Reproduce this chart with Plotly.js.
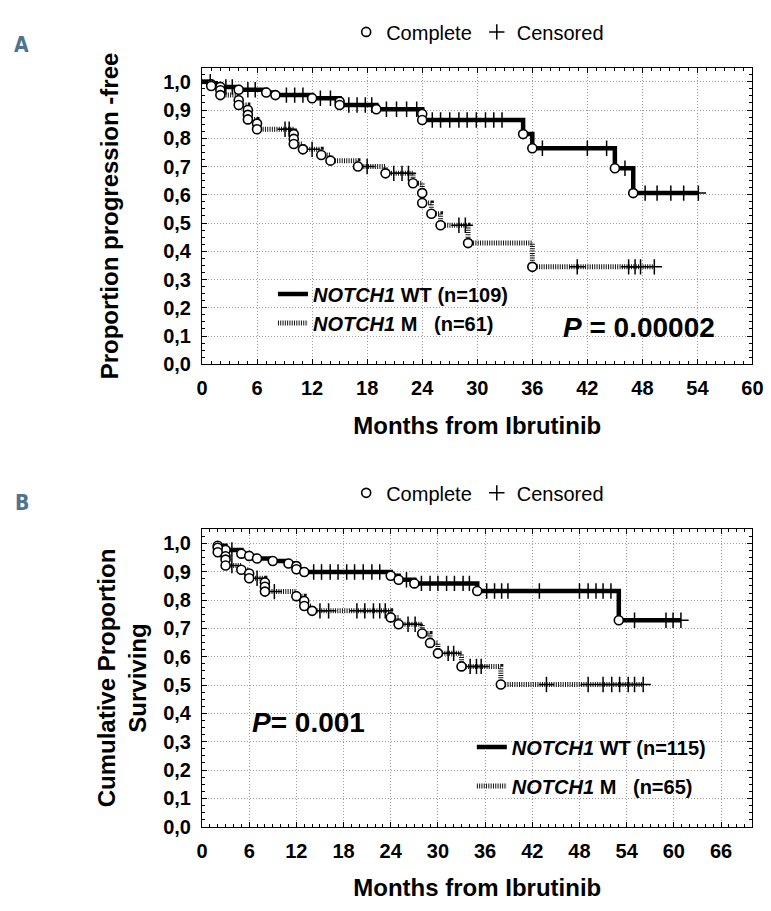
<!DOCTYPE html>
<html>
<head>
<meta charset="utf-8">
<script src="https://cdn.plot.ly/plotly-3.0.1.min.js"></script>
<style>html,body{margin:0;padding:0;background:#fff;}#chart{width:771px;height:911px;}</style>
</head>
<body>
<div id="chart"></div>
<script>
// ---------- Data ----------
// Panel A: progression-free, NOTCH1 WT
const pfsStartMonth = 0;
const pfsWtEventMonths = [1, 2, 4, 7, 8, 12, 15, 15, 19, 24, 24, 35, 36, 45, 47];
const pfsWtEventSurv   = [0.991, 0.982, 0.972, 0.962, 0.953, 0.942, 0.930, 0.918, 0.903, 0.886, 0.865, 0.815, 0.765, 0.694, 0.606];
const pfsWtCensorMonths = [0.9, 2.6, 3.3, 5.0, 5.8, 9.2, 10.1, 11.0, 12.9, 14.0, 16.0, 16.9, 17.8, 18.5, 20.1, 21.2, 22.3, 23.4,
  25.1, 26.0, 27.0, 28.0, 28.9, 29.9, 30.9, 31.8, 32.7, 37.1, 42.0, 44.1, 46.1, 48.3, 49.6, 51.1, 52.5, 54.1];
// Panel A: progression-free, NOTCH1 M
const pfsMEventMonths = [1, 2, 2, 4, 4, 5, 5, 5, 6, 6, 10, 10, 10, 11, 13, 14, 17, 20, 23, 24, 24, 25, 26, 29, 36];
const pfsMEventSurv   = [0.985, 0.970, 0.953, 0.935, 0.918, 0.900, 0.883, 0.867, 0.852, 0.832, 0.815, 0.798, 0.780, 0.761,
  0.741, 0.721, 0.700, 0.676, 0.641, 0.606, 0.571, 0.533, 0.492, 0.429, 0.345];
const pfsMCensorMonths = [9.05, 9.5, 12.0, 18.0, 20.9, 21.8, 22.5, 28.0, 28.7, 40.9, 46.5, 47.2, 47.8, 49.3];

// Panel B: overall survival, NOTCH1 WT
const osStartMonth = 1.8;
const osWtEventMonths = [2, 3, 5, 6, 7, 9, 11, 12, 12, 13, 24, 25, 27, 35, 53];
const osWtEventSurv   = [0.992, 0.977, 0.964, 0.956, 0.947, 0.938, 0.929, 0.920, 0.909, 0.899, 0.886, 0.872, 0.859, 0.832, 0.729];
const osWtCensorMonths = [3.8, 14.2, 15.2, 16.3, 17.3, 18.4, 19.4, 20.5, 21.6, 22.6, 26.0, 27.9, 29.0, 30.0, 31.1, 32.1, 33.2, 34.0,
  36.2, 37.2, 38.1, 38.9, 42.9, 48.0, 49.1, 50.1, 51.0, 52.0, 55.0, 59.0, 59.9, 60.9];
// Panel B: overall survival, NOTCH1 M
const osMEventMonths = [2, 2, 3, 3, 3, 5, 6, 6, 8, 8, 8, 12, 13, 13, 14, 24, 25, 28, 29, 30, 33, 38];
const osMEventSurv   = [0.985, 0.969, 0.955, 0.943, 0.922, 0.907, 0.894, 0.877, 0.862, 0.847, 0.830, 0.814, 0.797, 0.779,
  0.762, 0.739, 0.715, 0.682, 0.649, 0.612, 0.566, 0.502];
const osMCensorMonths = [3.8, 7.0, 9.2, 15.0, 16.1, 19.7, 20.7, 21.8, 22.6, 23.3, 26.2, 27.1, 31.3, 32.0, 34.1, 34.9, 35.5,
  43.8, 49.1, 51.0, 52.1, 53.1, 54.2, 55.0, 56.1];

// Axis ticks
const monthTicksA = [0, 6, 12, 18, 24, 30, 36, 42, 48, 54, 60];
const monthTicksB = [0, 6, 12, 18, 24, 30, 36, 42, 48, 54, 60, 66];
const propTicks = [0, 0.1, 0.2, 0.3, 0.4, 0.5, 0.6, 0.7, 0.8, 0.9, 1.0];
const propTickText = ["0,0", "0,1", "0,2", "0,3", "0,4", "0,5", "0,6", "0,7", "0,8", "0,9", "1,0"];

// Labels
const legendNamesA = ["<i>NOTCH1</i> WT (n=109)", "<i>NOTCH1</i> M\u00a0\u00a0\u00a0(n=61)"];
const legendNamesB = ["<i>NOTCH1</i> WT (n=115)", "<i>NOTCH1</i> M\u00a0\u00a0\u00a0(n=65)"];

// ---------- Helpers ----------
const FONT = "Liberation Sans, Arial, Helvetica, sans-serif";
function stepCurve(start, evT, evS, censT) {
  const x = [start], y = [1];
  evT.forEach((t, i) => { x.push(t); y.push(evS[i]); });
  const end = Math.max(evT[evT.length - 1], ...censT);
  x.push(end); y.push(y[y.length - 1]);
  return {x, y};
}
function survAt(t, evT, evS) {
  let s = 1;
  for (let i = 0; i < evT.length; i++) if (evT[i] <= t) s = evS[i];
  return s;
}
const wtLine = {color: "#000", width: 4.5};
const mLine = {color: "#111", width: 5, dash: "1px,1.3px"};
const circleMarker = {symbol: "circle", size: 9, color: "#fff", line: {color: "#000", width: 1.6}};
const plusMarker = {symbol: "cross-thin-open", size: 11, color: "#000", line: {color: "#000", width: 1.5}};

function panelTraces(xa, ya, start, wt, m, names, legLines, legHeader) {
  const wtC = stepCurve(start, wt[0], wt[1], wt[2]);
  const mC = stepCurve(start, m[0], m[1], m[2]);
  return [
    {x: wtC.x, y: wtC.y, xaxis: xa, yaxis: ya, mode: "lines", line: Object.assign({shape: "hv"}, wtLine),
     name: names[0], legend: legLines, showlegend: true, legendgroup: legLines + "wt", hoverinfo: "skip"},
    {x: mC.x, y: mC.y, xaxis: xa, yaxis: ya, mode: "lines", line: Object.assign({shape: "hv"}, mLine),
     name: names[1], legend: legLines, showlegend: true, legendgroup: legLines + "m", hoverinfo: "skip"},
    {x: wt[2], y: wt[2].map(t => survAt(t, wt[0], wt[1])), xaxis: xa, yaxis: ya, mode: "markers",
     marker: plusMarker, name: "Censored", legend: legHeader, showlegend: true, legendrank: 2, legendgroup: legHeader + "c"},
    {x: m[2], y: m[2].map(t => survAt(t, m[0], m[1])), xaxis: xa, yaxis: ya, mode: "markers",
     marker: plusMarker, showlegend: false},
    {x: wt[0], y: wt[1], xaxis: xa, yaxis: ya, mode: "markers", marker: circleMarker,
     name: "Complete", legend: legHeader, showlegend: true, legendrank: 1, legendgroup: legHeader + "e"},
    {x: m[0], y: m[1], xaxis: xa, yaxis: ya, mode: "markers", marker: circleMarker, showlegend: false}
  ];
}

const traces = [].concat(
  panelTraces("x", "y", pfsStartMonth, [pfsWtEventMonths, pfsWtEventSurv, pfsWtCensorMonths],
              [pfsMEventMonths, pfsMEventSurv, pfsMCensorMonths], legendNamesA, "legend", "legend3"),
  panelTraces("x2", "y2", osStartMonth, [osWtEventMonths, osWtEventSurv, osWtCensorMonths],
              [osMEventMonths, osMEventSurv, osMCensorMonths], legendNamesB, "legend2", "legend4")
);

const GRID = {showgrid: true, gridcolor: "#9c9c9c", griddash: "1px,2px", gridwidth: 1};
function xAxis(anchor, range, ticks) {
  return Object.assign({
    anchor: anchor, domain: [0.262, 0.976], range: range, tickmode: "array", tickvals: ticks,
    ticks: "inside", ticklen: 5, tickwidth: 1, tickcolor: "#000", mirror: "allticks",
    showline: true, linecolor: "#000", linewidth: 1, zeroline: false,
    minor: {tickmode: "linear", tick0: 0, dtick: 1, ticks: "inside", ticklen: 3, tickcolor: "#000", showgrid: false},
    tickfont: {family: FONT, size: 20, color: "#000", weight: "bold"},
    ticklabelstandoff: 6,
    title: {text: "Months from Ibrutinib", font: {family: FONT, size: 24, color: "#000", weight: "bold"}, standoff: 18}
  }, GRID);
}
function yAxis(anchor, domain, title, standoff) {
  return Object.assign({
    anchor: anchor, domain: domain, range: [0, 1.05], tickmode: "array", tickvals: propTicks, ticktext: propTickText,
    ticks: "inside", ticklen: 5, tickwidth: 1, tickcolor: "#000", mirror: "allticks",
    showline: true, linecolor: "#000", linewidth: 1, zeroline: false,
    minor: {tickmode: "linear", tick0: 0, dtick: 0.025, ticks: "inside", ticklen: 3, tickcolor: "#000", showgrid: false},
    tickfont: {family: FONT, size: 20, color: "#000", weight: "bold"},
    ticklabelstandoff: 6,
    title: {text: title, font: {family: FONT, size: 24, color: "#000", weight: "bold"}, standoff: standoff}
  }, GRID);
}

const legendBase = {bgcolor: "rgba(0,0,0,0)", borderwidth: 0, font: {family: FONT, size: 20, color: "#000", weight: "bold"},
  xanchor: "left", yanchor: "middle", tracegroupgap: 0};
const headerBase = {bgcolor: "rgba(0,0,0,0)", borderwidth: 0, font: {family: FONT, size: 20, color: "#000"},
  orientation: "h", xanchor: "left", yanchor: "middle", traceorder: "normal"};

const layout = {
  width: 771, height: 911, margin: {l: 0, r: 0, t: 0, b: 0},
  paper_bgcolor: "#fff", plot_bgcolor: "#fff", showlegend: true,
  xaxis: xAxis("y", [0, 60], monthTicksA),
  yaxis: yAxis("x", [0.6001, 0.9257], "Proportion progression -free", 37),
  xaxis2: xAxis("y2", [0, 70], monthTicksB),
  yaxis2: yAxis("x2", [0.0925, 0.4190], "Cumulative Proportion<br>Surviving", 9),
  legend: Object.assign({}, legendBase, {x: 0.354, y: 0.6614}),
  legend2: Object.assign({}, legendBase, {x: 0.612, y: 0.1586, tracegroupgap: 10}),
  legend3: Object.assign({}, headerBase, {x: 0.449, y: 0.965}),
  legend4: Object.assign({}, headerBase, {x: 0.449, y: 0.459}),
  annotations: [
    {xref: "paper", yref: "paper", x: 0.8294, y: 0.640, text: "<b><i>P</i> = 0.00002</b>", showarrow: false,
     font: {family: FONT, size: 28, color: "#000"}, xanchor: "center", yanchor: "middle"},
    {xref: "paper", yref: "paper", x: 0.3995, y: 0.2064, text: "<b><i>P</i>= 0.001</b>", showarrow: false,
     font: {family: FONT, size: 28, color: "#000"}, xanchor: "center", yanchor: "middle"},
    {xref: "paper", yref: "paper", x: 0.0285, y: 0.9506, text: "A", showarrow: false,
     font: {family: "DejaVu Sans Condensed, Liberation Sans Narrow, sans-serif", size: 21, color: "#4f7391", weight: "bold"},
     xanchor: "center", yanchor: "middle"},
    {xref: "paper", yref: "paper", x: 0.0285, y: 0.4478, text: "B", showarrow: false,
     font: {family: "DejaVu Sans Condensed, Liberation Sans Narrow, sans-serif", size: 21, color: "#4f7391", weight: "bold"},
     xanchor: "center", yanchor: "middle"}
  ]
};

Plotly.newPlot("chart", traces, layout, {staticPlot: true, displayModeBar: false});
</script>
</body>
</html>
